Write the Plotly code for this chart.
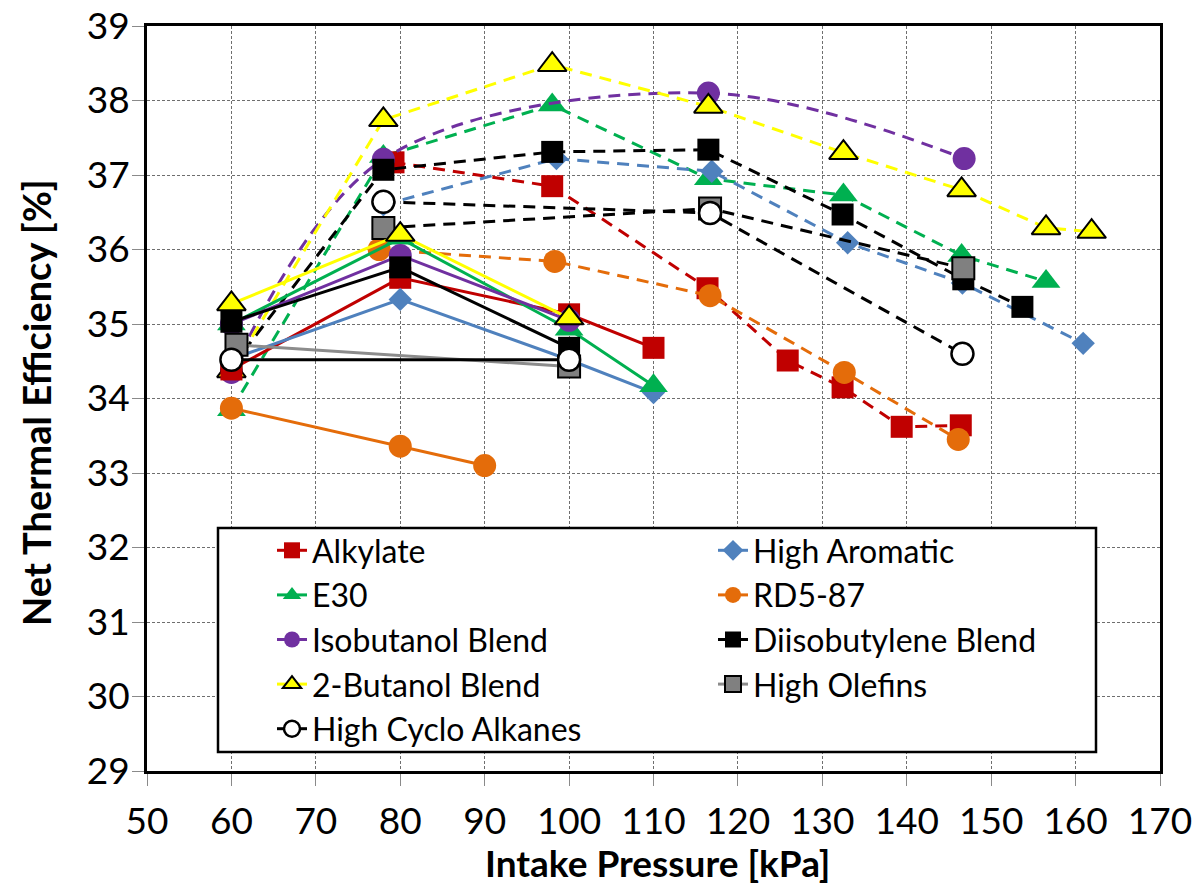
import plotly.graph_objects as go

# ---------------- data ----------------
# Solid-line sweep
alk_x = [60, 80, 100, 110]
alk_y = [34.39, 35.62, 35.13, 34.68]
aro_x = [60, 80, 100, 110]
aro_y = [34.53, 35.33, 34.52, 34.08]
e30_x = [60, 80, 100, 110]
e30_y = [35.0, 36.15, 34.93, 34.17]
rd5_x = [60, 80, 90]
rd5_y = [33.87, 33.36, 33.10]
iso_x = [60, 80, 100]
iso_y = [35.0, 35.92, 35.05]
dib_x = [60, 80, 100]
dib_y = [35.03, 35.76, 34.68]
but_x = [60, 80, 100]
but_y = [35.27, 36.20, 35.08]
ole_x = [60.6, 100]
ole_y = [34.72, 34.43]
cyc_x = [60, 100]
cyc_y = [34.52, 34.52]

# Dashed-line sweep
alk_dx = [79.2, 98.0, 116.4, 125.9, 132.4, 139.4, 146.4]
alk_dy = [37.17, 36.85, 35.48, 34.51, 34.15, 33.62, 33.64]
aro_dx = [78.0, 98.5, 116.9, 133.0, 146.6, 160.9]
aro_dy = [36.60, 37.22, 37.05, 36.09, 35.55, 34.74]
e30_dx = [60, 78.0, 98.0, 116.5, 132.5, 146.5, 156.5]
e30_dy = [33.85, 37.25, 37.94, 36.95, 36.73, 35.92, 35.57]
rd5_dx = [77.5, 98.3, 116.7, 132.6, 146.1]
rd5_dy = [36.00, 35.84, 35.38, 34.35, 33.45]
iso_dx = [60, 78.0, 116.5, 146.8]
iso_dy = [34.35, 37.21, 38.10, 37.22]
dib_dx = [60, 78.0, 98.0, 116.5, 132.4, 146.7, 153.7]
dib_dy = [34.42, 37.07, 37.31, 37.34, 36.47, 35.60, 35.23]
but_dx = [60, 78.0, 98.0, 116.5, 132.5, 146.5, 156.5, 161.9]
but_dy = [34.37, 37.74, 38.48, 37.92, 37.30, 36.80, 36.29, 36.24]
ole_dx = [78.0, 116.7, 146.7]
ole_dy = [36.29, 36.55, 35.75]
cyc_dx = [78.0, 116.7, 146.6]
cyc_dy = [36.64, 36.49, 34.60]

x_ticks = [50, 60, 70, 80, 90, 100, 110, 120, 130, 140, 150, 160, 170]
y_ticks = [29, 30, 31, 32, 33, 34, 35, 36, 37, 38, 39]

# ---------------- styles ----------------
RED = '#C00000'
BLUE = '#4F81BD'
GREEN = '#00B050'
ORANGE = '#E46C0A'
PURPLE = '#7030A0'
BLACK = '#000000'
YELLOW = '#FFFF00'
GRAY = '#808080'
GRAYLINE = '#8C8C8C'
WHITE = '#FFFFFF'
DASH = '12px,8px'
FONT = 'Lato'

fig = go.Figure()


def add(x, y, color, symbol, size, dash, name=None, line_color=None,
        mline_color=None, mline_width=0, smooth=False):
    line = dict(color=line_color or color, width=3, dash=dash)
    if smooth:
        line.update(shape='spline', smoothing=1.0)
    fig.add_trace(go.Scatter(
        x=x, y=y, mode='lines+markers', name=name or '',
        showlegend=name is not None,
        line=line,
        marker=dict(color=color, symbol=symbol, size=size,
                    line=dict(color=mline_color or color, width=mline_width)),
    ))


# dashed sweep first (drawn underneath)
add(e30_dx, e30_dy, GREEN, 'triangle-up', 25, DASH)
add(alk_dx, alk_dy, RED, 'square', 22, DASH)
add(aro_dx, aro_dy, BLUE, 'diamond', 18, DASH)
add(rd5_dx, rd5_dy, ORANGE, 'circle', 23, DASH)
add(iso_dx, iso_dy, PURPLE, 'circle', 23, DASH, smooth=True)
add(dib_dx, dib_dy, BLACK, 'square', 22, DASH)
add(but_dx, but_dy, YELLOW, 'triangle-up', 25, DASH, mline_color=BLACK, mline_width=2)
add(ole_dx, ole_dy, GRAY, 'square', 22, DASH, line_color=BLACK, mline_color=BLACK, mline_width=2)
add(cyc_dx, cyc_dy, WHITE, 'circle', 22, DASH, line_color=BLACK, mline_color=BLACK, mline_width=2.5)

# solid sweep (legend entries)
add(alk_x, alk_y, RED, 'square', 22, 'solid', name='Alkylate')
add(aro_x, aro_y, BLUE, 'diamond', 18, 'solid', name='High Aromatic')
add(e30_x, e30_y, GREEN, 'triangle-up', 25, 'solid', name='E30')
add(rd5_x, rd5_y, ORANGE, 'circle', 23, 'solid', name='RD5-87')
add(iso_x, iso_y, PURPLE, 'circle', 23, 'solid', name='Isobutanol Blend')
add(dib_x, dib_y, BLACK, 'square', 22, 'solid', name='Diisobutylene Blend')
add(but_x, but_y, YELLOW, 'triangle-up', 25, 'solid', name='2-Butanol Blend',
    mline_color=BLACK, mline_width=2)
add(ole_x, ole_y, GRAY, 'square', 22, 'solid', name='High Olefins',
    line_color=GRAYLINE, mline_color=BLACK, mline_width=2)
add(cyc_x, cyc_y, WHITE, 'circle', 22, 'solid', name='High Cyclo Alkanes',
    line_color=BLACK, mline_color=BLACK, mline_width=2.5)

# plot-area geometry (px)
L, R, T, B = 147, 37, 26, 114
W, H = 1197, 885
pw, ph = W - L - R, H - T - B


def px2paper_x(p):
    return (p - L) / pw


def px2paper_y(p):
    return (H - B - p) / ph


axis_common = dict(
    showline=True, mirror=True, linecolor=BLACK, linewidth=3,
    showgrid=True, gridcolor='#6E6E6E', gridwidth=1, griddash='3px,2px',
    ticks='outside', ticklen=12, tickcolor='#8A8A8A', tickwidth=1,
    tickfont=dict(family=FONT, size=37, color=BLACK),
    zeroline=False,
)

fig.update_layout(
    width=W, height=H,
    margin=dict(l=L, r=R, t=T, b=B, autoexpand=False),
    paper_bgcolor='white', plot_bgcolor='white',
    font=dict(family=FONT, color=BLACK),
    xaxis=dict(range=[50, 170], tickvals=x_ticks, ticklabelstandoff=4, **axis_common),
    yaxis=dict(range=[29, 39], tickvals=y_ticks, ticklabelstandoff=-5, **axis_common),
    legend=dict(
        orientation='h', x=px2paper_x(272), y=px2paper_y(523),
        xanchor='left', yanchor='top',
        entrywidth=396, entrywidthmode='pixels',
        borderwidth=0, bgcolor='rgba(0,0,0,0)',
        font=dict(family=FONT, size=32, color=BLACK),
        traceorder='normal',
    ),
    shapes=[dict(
        type='rect', xref='paper', yref='paper', layer='above',
        x0=px2paper_x(218), x1=px2paper_x(1096),
        y0=px2paper_y(752), y1=px2paper_y(528),
        line=dict(color=BLACK, width=2.5), fillcolor=WHITE,
    )],
    annotations=[
        dict(text='<b>Intake Pressure [kPa]</b>', xref='paper', yref='paper',
             x=px2paper_x(657), y=px2paper_y(862), xanchor='center', yanchor='middle',
             showarrow=False, font=dict(family=FONT, size=37, color=BLACK)),
        dict(text='<b>Net Thermal Efficiency [%]</b>', xref='paper', yref='paper',
             x=px2paper_x(36), y=px2paper_y(403), xanchor='center', yanchor='middle',
             textangle=-90, showarrow=False, font=dict(family=FONT, size=38, color=BLACK)),
    ],
)

fig.write_html('out.html')
